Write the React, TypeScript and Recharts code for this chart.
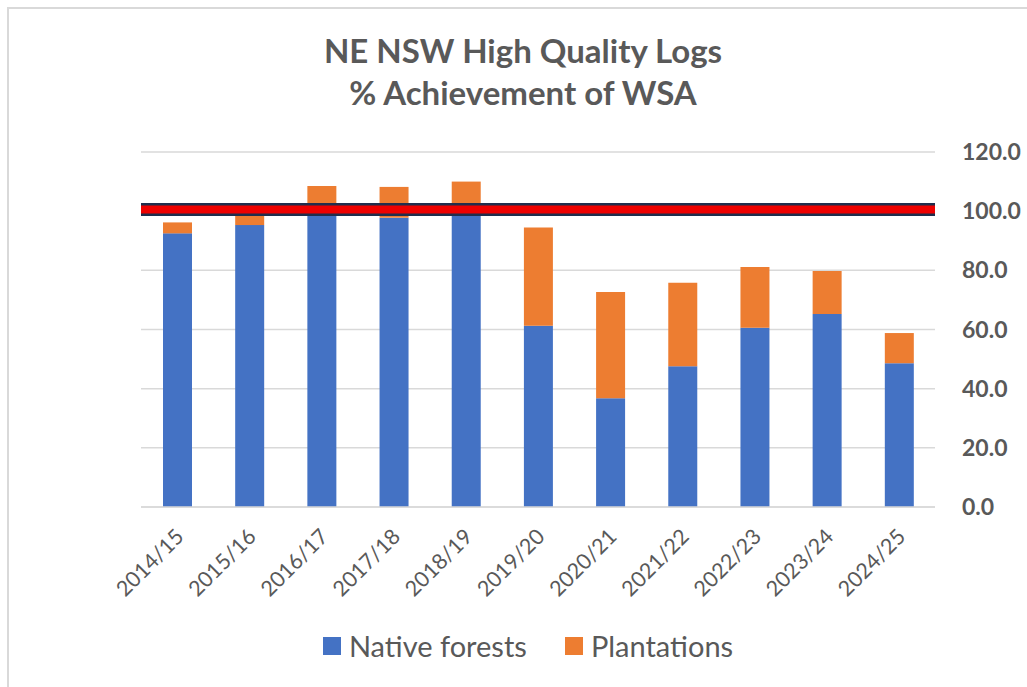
import React from "react";
import {
  BarChart,
  Bar,
  XAxis,
  YAxis,
  CartesianGrid,
  ReferenceLine,
  Legend,
} from "recharts";

const YEARS = [
  "2014/15", "2015/16", "2016/17", "2017/18", "2018/19", "2019/20",
  "2020/21", "2021/22", "2022/23", "2023/24", "2024/25",
];
const NATIVE = [92.5, 95.3, 101.0, 97.8, 102.0, 61.3, 36.8, 47.6, 60.6, 65.2, 48.6];
const PLANTATIONS = [3.7, 4.2, 7.5, 10.4, 8.0, 33.2, 35.9, 28.2, 20.5, 14.6, 10.2];
const Y_TICKS = [0, 20, 40, 60, 80, 100, 120];
const TARGET = 100.6;

const TEXT = "#595959";
const FONT = "Lato, 'Open Sans', sans-serif";

const data = YEARS.map((year, i) => ({
  year,
  native: NATIVE[i],
  plantations: PLANTATIONS[i],
}));

function YearTick({ x, y, payload }: any) {
  return (
    <text
      x={x + 8}
      y={y + 23}
      transform={`rotate(-45, ${x + 8}, ${y + 23})`}
      textAnchor="end"
      fill={TEXT}
      fontSize={21.5}
      fontFamily={FONT}
    >
      {payload.value}
    </text>
  );
}

function LegendContent() {
  const items = [
    { label: "Native forests", color: "#4472C4" },
    { label: "Plantations", color: "#ED7D31" },
  ];
  return (
    <div style={{ display: "flex", justifyContent: "center", gap: 38, fontFamily: FONT, paddingTop: 1 }}>
      {items.map((it) => (
        <div key={it.label} style={{ display: "flex", alignItems: "center", gap: 8 }}>
          <span style={{ width: 18, height: 18, background: it.color, display: "inline-block" }} />
          <span style={{ fontSize: 29, color: TEXT }}>{it.label}</span>
        </div>
      ))}
    </div>
  );
}

export default function App() {
  return (
    <div
      style={{
        position: "absolute",
        left: 0,
        top: 0,
        width: 1027,
        height: 687,
        overflow: "hidden",
        background: "#fff",
      }}
    >
      <div
        style={{
          position: "absolute",
          left: 7,
          top: 7,
          width: 1100,
          height: 1100,
          border: "2px solid #D9D9D9",
        }}
      />
      <div
        style={{
          position: "absolute",
          left: 0,
          top: 29,
          width: 1046,
          textAlign: "center",
          fontFamily: FONT,
          fontWeight: 700,
          fontSize: 33,
          lineHeight: "42px",
          color: TEXT,
        }}
      >
        NE NSW High Quality Logs
        <br />% Achievement of WSA
      </div>
      <div style={{ position: "absolute", left: 0, top: 0 }}>
        <BarChart
          width={1027}
          height={687}
          data={data}
          margin={{ top: 152, right: 0, left: 141, bottom: 20 }}
          barSize={29}
        >
          <CartesianGrid vertical={false} stroke="#D9D9D9" strokeWidth={1.5} />
          <XAxis
            dataKey="year"
            height={120}
            interval={0}
            tick={<YearTick />}
            tickLine={false}
            axisLine={{ stroke: "#D9D9D9", strokeWidth: 1.5 }}
          />
          <YAxis
            orientation="right"
            width={92}
            domain={[0, 120]}
            ticks={Y_TICKS}
            tickFormatter={(v: number) => v.toFixed(1)}
            tick={{ fill: TEXT, fontSize: 23, fontWeight: 700, fontFamily: FONT }}
            tickLine={false}
            axisLine={false}
            tickMargin={21}
          />
          <Bar dataKey="native" name="Native forests" stackId="a" fill="#4472C4" isAnimationActive={false} />
          <Bar dataKey="plantations" name="Plantations" stackId="a" fill="#ED7D31" isAnimationActive={false} />
          {/* target line: dark outline under a red core */}
          <ReferenceLine y={TARGET} stroke="#1F2E4D" strokeWidth={13} ifOverflow="visible" />
          <ReferenceLine y={TARGET} stroke="#EE0000" strokeWidth={8} ifOverflow="visible" />
          <Legend
            verticalAlign="bottom"
            height={40}
            content={<LegendContent />}
            wrapperStyle={{ left: 0, width: 1056 }}
          />
        </BarChart>
      </div>
    </div>
  );
}
